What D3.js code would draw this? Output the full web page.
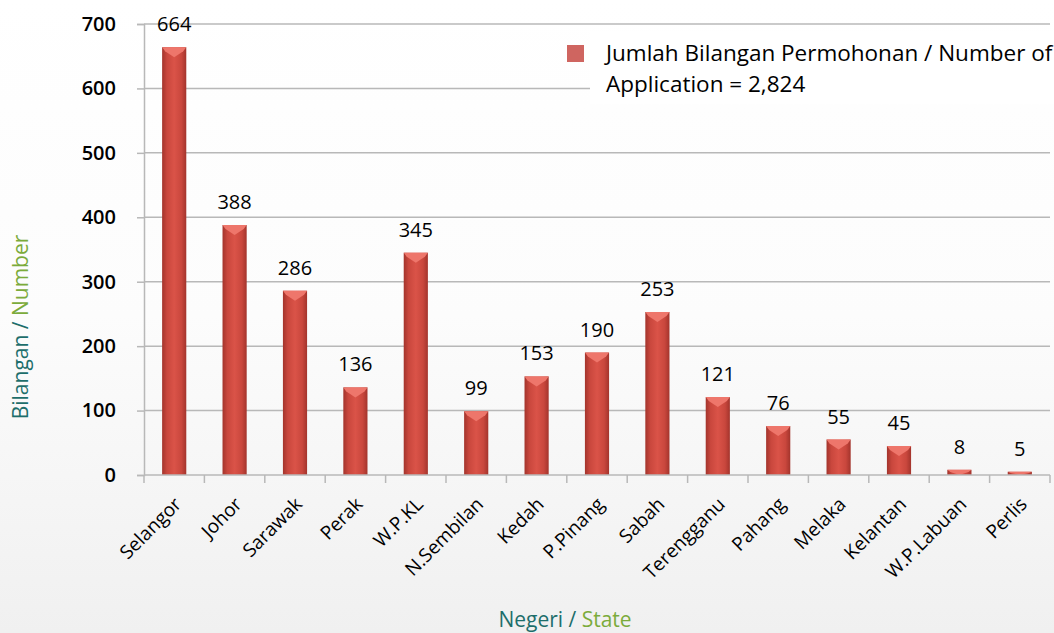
<!DOCTYPE html>
<meta charset="utf-8">
<head>
<style>
  body { margin: 0; background: #fff; }
  text { font-family: "Open Sans", "Noto Sans", sans-serif; }
</style>
</head>
<body>
<script src="https://d3js.org/d3.v7.min.js"></script>
<div id="chart"></div>
<script>

// data
var states = ["Selangor", "Johor", "Sarawak", "Perak", "W.P.KL", "N.Sembilan", "Kedah",
              "P.Pinang", "Sabah", "Terengganu", "Pahang", "Melaka", "Kelantan", "W.P.Labuan", "Perlis"];
var counts = [664, 388, 286, 136, 345, 99, 153, 190, 253, 121, 76, 55, 45, 8, 5];
var yTicks = [0, 100, 200, 300, 400, 500, 600, 700];
var legendLines = ["Jumlah Bilangan Permohonan / Number of", "Application = 2,824"];

var W = 1054, H = 633;
var margin = {top: 24, right: 4, bottom: 158, left: 144};

var svg = d3.select("#chart").append("svg")
  .attr("width", W)
  .attr("height", H);

var defs = svg.append("defs");
var bg = defs.append("linearGradient").attr("id", "bg").attr("x1", 0).attr("y1", 0).attr("x2", 0).attr("y2", 1);
bg.append("stop").attr("offset", "0%").attr("stop-color", "#ffffff");
bg.append("stop").attr("offset", "50%").attr("stop-color", "#fcfcfc");
bg.append("stop").attr("offset", "100%").attr("stop-color", "#f0f0f0");

var barGrad = defs.append("linearGradient").attr("id", "bar").attr("x1", 0).attr("y1", 0).attr("x2", 1).attr("y2", 0);
barGrad.append("stop").attr("offset", "0%").attr("stop-color", "#a3342c");
barGrad.append("stop").attr("offset", "20%").attr("stop-color", "#c9473d");
barGrad.append("stop").attr("offset", "50%").attr("stop-color", "#da5348");
barGrad.append("stop").attr("offset", "80%").attr("stop-color", "#c9473d");
barGrad.append("stop").attr("offset", "100%").attr("stop-color", "#a3342c");

svg.append("rect").attr("width", W).attr("height", H).attr("fill", "url(#bg)");

var x = d3.scaleBand()
  .domain(states)
  .range([margin.left, 1050])
  .paddingInner(0.6)
  .paddingOuter(0.3);

var y = d3.scaleLinear()
  .domain([0, 700])
  .range([475, margin.top]);

// grid lines
svg.append("g").selectAll("line")
  .data(yTicks.filter(function(d) { return d > 0; }))
  .enter().append("line")
  .attr("x1", margin.left).attr("x2", 1050)
  .attr("y1", function(d) { return y(d); })
  .attr("y2", function(d) { return y(d); })
  .attr("stroke", "#b8b8b8")
  .attr("stroke-width", 1.5);

// y axis
var yAxis = svg.append("g")
  .attr("transform", "translate(" + margin.left + ",0)")
  .call(d3.axisLeft(y).tickValues(yTicks).tickSize(7).tickPadding(21));
yAxis.select(".domain").attr("stroke", "#b8b8b8").attr("stroke-width", 1.5);
yAxis.selectAll(".tick line").attr("stroke", "#b8b8b8").attr("stroke-width", 1.5);
yAxis.selectAll(".tick text")
  .attr("font-size", 20)
  .attr("font-weight", 600)
  .attr("fill", "#000")
  .style("font-family", "'Open Sans', sans-serif");

// bars
var bars = svg.append("g").selectAll("g")
  .data(states)
  .enter().append("g");

bars.append("rect")
  .attr("x", function(d) { return x(d); })
  .attr("y", function(d, i) { return y(counts[i]); })
  .attr("width", x.bandwidth())
  .attr("height", function(d, i) { return y(0) - y(counts[i]); })
  .attr("fill", "url(#bar)");

// bevelled top of each bar
bars.append("path")
  .attr("d", function(d, i) {
    var x0 = x(d), x1 = x(d) + x.bandwidth(), t = y(counts[i]);
    var h = Math.min(10, y(0) - t);
    var xc = (x0 + x1) / 2;
    return "M" + x0 + "," + t + "L" + x1 + "," + t + "L" + (x1 - 3) + "," + (t + h * 0.4) +
      "L" + xc + "," + (t + h) + "L" + (x0 + 3) + "," + (t + h * 0.4) + "Z";
  })
  .attr("fill", "#ee766b");

// value labels
bars.append("text")
  .attr("x", function(d) { return x(d) + x.bandwidth() / 2; })
  .attr("y", function(d, i) { return y(counts[i]) - 16; })
  .attr("text-anchor", "middle")
  .attr("font-size", 20)
  .attr("font-weight", 500)
  .attr("fill", "#000")
  .text(function(d, i) { return counts[i]; });

// x axis
var xAxis = svg.append("g")
  .attr("transform", "translate(0," + y(0) + ")");
xAxis.append("line")
  .attr("x1", margin.left).attr("x2", 1050)
  .attr("stroke", "#b8b8b8").attr("stroke-width", 1.5);
var edges = states.map(function(d) { return x(d) - x.step() * x.paddingInner() / 2; }).concat([1050]);
xAxis.selectAll(".tk")
  .data(edges)
  .enter().append("line")
  .attr("x1", function(d) { return d; }).attr("x2", function(d) { return d; })
  .attr("y1", 0).attr("y2", 8)
  .attr("stroke", "#b8b8b8").attr("stroke-width", 1.5);
xAxis.selectAll(".lbl")
  .data(states)
  .enter().append("text")
  .attr("transform", function(d) {
    return "translate(" + (x(d) + x.bandwidth() / 2 - 1) + ",21) rotate(-45)";
  })
  .attr("text-anchor", "end")
  .attr("dy", "0.7em")
  .attr("font-size", 19)
  .attr("fill", "#000")
  .text(function(d) { return d; });

// legend
var lg = svg.append("g");
lg.append("rect").attr("x", 590).attr("y", 32).attr("width", 464).attr("height", 72).attr("fill", "#fff");
lg.append("rect").attr("x", 567).attr("y", 45).attr("width", 17).attr("height", 17).attr("fill", "#cf6560");
lg.selectAll("text")
  .data(legendLines)
  .enter().append("text")
  .attr("x", 606)
  .attr("y", function(d, i) { return 61 + i * 31; })
  .attr("font-size", 22.5)
  .attr("fill", "#000")
  .text(function(d) { return d; });

// axis titles
var yt = svg.append("text")
  .attr("transform", "translate(28,327) rotate(-90)")
  .attr("text-anchor", "middle")
  .attr("font-size", 21);
yt.append("tspan").attr("fill", "#1d6e6b").text("Bilangan / ");
yt.append("tspan").attr("fill", "#7bab3b").text("Number");

var xt = svg.append("text")
  .attr("x", 565)
  .attr("y", 627)
  .attr("text-anchor", "middle")
  .attr("font-size", 21);
xt.append("tspan").attr("fill", "#1d6e6b").text("Negeri / ");
xt.append("tspan").attr("fill", "#7bab3b").text("State");

</script>
</body>
